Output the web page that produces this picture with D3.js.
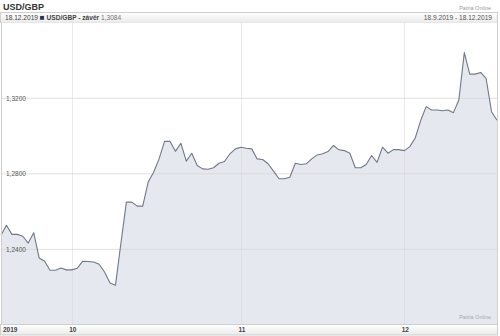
<!DOCTYPE html>
<html>
<head>
<meta charset="utf-8">
<script src="https://cdn.jsdelivr.net/npm/d3@7"></script>
<style>
  body { margin: 0; background: #fff; }
  text { font-family: "Liberation Sans", Arial, sans-serif; }
</style>
</head>
<body>
<div id="chart"></div>
<script>
// daily USD/GBP close, 18.9.2019 - 18.12.2019
const startDate = new Date(2019, 8, 18);
const endDate = new Date(2019, 11, 18);
const values = [
  1.2474, 1.2527, 1.2479, 1.2479, 1.2469, 1.2433, 1.2488, 1.2354, 1.2337, 1.2289,
  1.2289, 1.2301, 1.2291, 1.2291, 1.2300, 1.2337, 1.2335, 1.2333, 1.2321, 1.2280,
  1.2222, 1.2210, 1.2432, 1.2650, 1.2650, 1.2629, 1.2629, 1.2756, 1.2808, 1.2879,
  1.2972, 1.2972, 1.2919, 1.2962, 1.2867, 1.2909, 1.2844, 1.2826, 1.2824, 1.2832,
  1.2856, 1.2865, 1.2906, 1.2932, 1.2941, 1.2935, 1.2932, 1.2879, 1.2876, 1.2853,
  1.2814, 1.2774, 1.2774, 1.2782, 1.2856, 1.2849, 1.2853, 1.2879, 1.2900, 1.2906,
  1.2918, 1.2950, 1.2927, 1.2923, 1.2909, 1.2832, 1.2832, 1.2849, 1.2897, 1.2861,
  1.2941, 1.2909, 1.2928, 1.2928, 1.2923, 1.2944, 1.2990, 1.3082, 1.3156, 1.3138,
  1.3138, 1.3134, 1.3138, 1.3124, 1.3191, 1.3442, 1.3328, 1.3328, 1.3337, 1.3305,
  1.3129, 1.3084
];
const yTicks = [1.24, 1.28, 1.32];
const monthTicks = [new Date(2019, 9, 1), new Date(2019, 10, 1), new Date(2019, 11, 1)];
const monthLabels = ['10', '11', '12'];
const yearLabel = '2019';

const dates = d3.timeDays(startDate, d3.timeDay.offset(endDate, 1));
const data = dates.map((d, i) => ({ date: d, value: values[i] }));

const W = 500, H = 336;
const plot = { left: 1, right: 497, top: 22.5, bottom: 324 };

const svg = d3.select('#chart').append('svg')
  .attr('width', W).attr('height', H);

const defs = svg.append('defs');
const grad = defs.append('linearGradient').attr('id', 'bar').attr('x1', 0).attr('y1', 0).attr('x2', 0).attr('y2', 1);
grad.append('stop').attr('offset', '0%').attr('stop-color', '#ffffff');
grad.append('stop').attr('offset', '100%').attr('stop-color', '#eaeaea');

const x = d3.scaleTime().domain([startDate, endDate]).range([plot.left, plot.right]);
const y = d3.scaleLinear().domain([1.24, 1.32]).range([249.3, 98.3]);

// title
svg.append('text').attr('x', 3).attr('y', 10)
  .attr('font-size', 9).attr('font-weight', 'bold').attr('fill', '#333')
  .text('USD/GBP');
svg.append('text').attr('x', 491).attr('y', 10)
  .attr('font-size', 5.5).attr('fill', '#999').attr('text-anchor', 'end')
  .text('Patria Online');

// header bar
svg.append('rect').attr('x', 0.5).attr('y', 12.5).attr('width', 497).attr('height', 10)
  .attr('fill', 'url(#bar)').attr('stroke', '#cfcfcf');
const head = svg.append('text').attr('x', 5).attr('y', 19.8).attr('font-size', 6.6).attr('fill', '#444');
head.append('tspan').text('18.12.2019 ');
head.append('tspan').attr('fill', '#1f2f55').attr('font-size', 8).text('■');
head.append('tspan').attr('font-weight', 'bold').text(' USD/GBP - závěr ');
head.append('tspan').attr('fill', '#777').text('1,3084');
svg.append('text').attr('x', 492).attr('y', 19.8).attr('font-size', 6.6).attr('fill', '#555')
  .attr('text-anchor', 'end').text('18.9.2019 - 18.12.2019');

// plot background
svg.append('rect').attr('x', plot.left).attr('y', plot.top)
  .attr('width', plot.right - plot.left).attr('height', plot.bottom - plot.top)
  .attr('fill', '#fff');

// area + line
const area = d3.area().x(d => x(d.date)).y0(plot.bottom).y1(d => y(d.value));
const line = d3.line().x(d => x(d.date)).y(d => y(d.value));

svg.append('path').datum(data).attr('d', area).attr('fill', '#e5e8ee');

// grid
svg.append('g').selectAll('line').data(yTicks).join('line')
  .attr('x1', plot.left).attr('x2', plot.right)
  .attr('y1', d => y(d)).attr('y2', d => y(d))
  .attr('stroke', '#d8d8d8').attr('stroke-opacity', 0.8).attr('stroke-width', 1);
svg.append('g').selectAll('line').data(monthTicks).join('line')
  .attr('x1', d => Math.round(x(d)) + 0.5).attr('x2', d => Math.round(x(d)) + 0.5)
  .attr('y1', plot.top).attr('y2', plot.bottom)
  .attr('stroke', '#d6d6d6').attr('stroke-dasharray', '1,1').attr('stroke-width', 1);

svg.append('path').datum(data).attr('d', line)
  .attr('fill', 'none').attr('stroke', '#707888').attr('stroke-width', 1.1)
  .attr('stroke-linejoin', 'round');

// y labels
svg.append('g').selectAll('text').data(yTicks).join('text')
  .attr('x', 6).attr('y', d => y(d) + 2.3)
  .attr('font-size', 6.5).attr('fill', '#555')
  .text(d => d3.format('.4f')(d).replace('.', ','));

// plot borders
svg.append('line').attr('x1', plot.left + 0.5).attr('x2', plot.left + 0.5)
  .attr('y1', plot.top).attr('y2', plot.bottom).attr('stroke', '#d0d0d0');
svg.append('line').attr('x1', plot.right + 0.5).attr('x2', plot.right + 0.5)
  .attr('y1', plot.top).attr('y2', plot.bottom).attr('stroke', '#d0d0d0');

// watermark
svg.append('text').attr('x', 491).attr('y', 319)
  .attr('font-size', 5.5).attr('fill', '#aaa').attr('text-anchor', 'end')
  .text('Patria Online');

// bottom axis bar
svg.append('rect').attr('x', 0.5).attr('y', plot.bottom + 0.5).attr('width', 497).attr('height', 10.5)
  .attr('fill', 'url(#bar)').attr('stroke', '#cfcfcf');
svg.append('text').attr('x', 3).attr('y', 332)
  .attr('font-size', 6.5).attr('font-weight', 'bold').attr('fill', '#444')
  .text(yearLabel);
svg.append('g').selectAll('text').data(monthTicks).join('text')
  .attr('x', d => x(d) + 1).attr('y', 332)
  .attr('font-size', 6.5).attr('font-weight', 'bold').attr('fill', '#444')
  .attr('text-anchor', 'middle')
  .text((d, i) => monthLabels[i]);
</script>
</body>
</html>
